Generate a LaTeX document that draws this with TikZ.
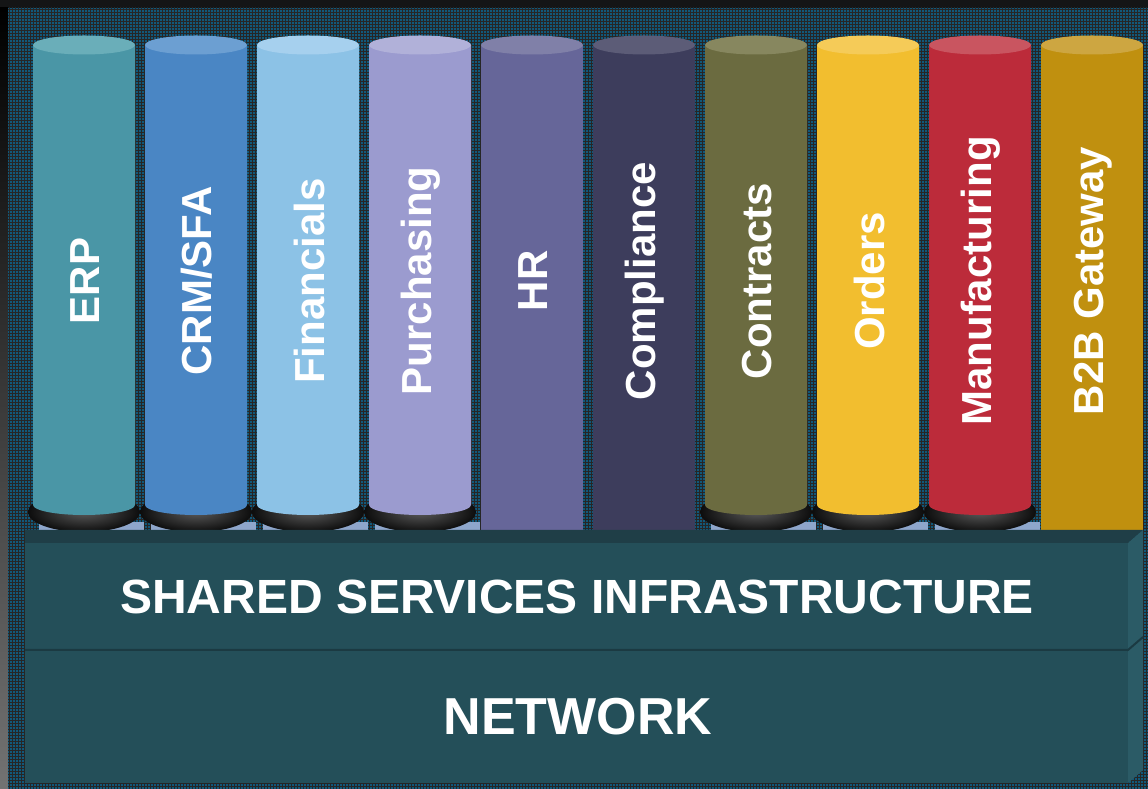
\documentclass[tikz,border=0pt]{standalone}
\usepackage{fontspec}
\setmainfont{Liberation Sans}
\usetikzlibrary{patterns}
\definecolor{outerdark}{HTML}{141516}
\definecolor{bgpanel}{HTML}{11587A}
\definecolor{baselight}{HTML}{8EA6CB}
\definecolor{slabfront}{HTML}{244F59}
\definecolor{slabtop}{HTML}{1F3E47}
\definecolor{slabside}{HTML}{2B5B66}
\definecolor{slabline}{HTML}{1B3A42}
\definecolor{erpbody}{HTML}{4A96A6}
\definecolor{erptop}{HTML}{6AAEB9}
\definecolor{crmbody}{HTML}{4A86C4}
\definecolor{crmtop}{HTML}{6C9FD2}
\definecolor{finbody}{HTML}{8CC2E6}
\definecolor{fintop}{HTML}{A6D0EE}
\definecolor{purchbody}{HTML}{9B9BCF}
\definecolor{purchtop}{HTML}{B1B1D9}
\definecolor{hrbody}{HTML}{666699}
\definecolor{hrtop}{HTML}{8080A8}
\definecolor{complbody}{HTML}{3D3D5C}
\definecolor{compltop}{HTML}{5C5C77}
\definecolor{contrbody}{HTML}{6B6B40}
\definecolor{contrtop}{HTML}{87875F}
\definecolor{ordersbody}{HTML}{F2BE2F}
\definecolor{orderstop}{HTML}{F5CB58}
\definecolor{manufbody}{HTML}{BC2B3A}
\definecolor{manuftop}{HTML}{C95560}
\definecolor{btobbody}{HTML}{C0900F}
\definecolor{btobtop}{HTML}{CDA641}

\begin{document}
\begin{tikzpicture}[x=1pt,y=1pt,node font=\bfseries\fontsize{42}{42}\selectfont,
    pillartext/.style={white,rotate=90}]
  \useasboundingbox (0,0) rectangle (1148,789);
  % backdrop
  \fill[outerdark] (0,0) rectangle (1148,789);
  \shade[top color=black, bottom color=black!55] (0,0) rectangle (8,781);
  \fill[bgpanel] (8,0) rectangle (1148,781);
  \fill[pattern=grid, pattern color=black!85] (8,0) rectangle (1148,781);
  % pillars
  \foreach \i/\col/\txt/\hasbase in {0/erp/ERP/1, 1/crm/{CRM/SFA}/1,
      2/fin/Financials/1, 3/purch/Purchasing/1, 4/hr/HR/0,
      5/compl/Compliance/0, 6/contr/Contracts/1, 7/orders/Orders/1,
      8/manuf/Manufacturing/1, 9/btob/B2B Gateway/0}{
    \pgfmathsetmacro\cx{84+112*\i}
    \ifnum\hasbase=1
      \fill[baselight] (\cx-45,259) rectangle (\cx+60,267);
      \shade[inner color=black!65, outer color=black!95] (\cx,277) ellipse [x radius=56, y radius=20];
      \fill[\col body] (\cx-51,744) -- (\cx-51,284)
        arc[start angle=180, end angle=360, x radius=51, y radius=10] -- (\cx+51,744) -- cycle;
    \else
      \fill[\col body] (\cx-51,259) rectangle (\cx+51,744);
    \fi
    \fill[\col top] (\cx,744) ellipse [x radius=51, y radius=9.5];
    \node[pillartext] (\col) at (\cx+1,508) {\txt};
  }
  % shared services slab
  \fill[slabtop] (25,259) -- (1143,259) -- (1128,246) -- (25,246) -- cycle;
  \fill[slabfront] (25,246) rectangle (1128,139);
  \fill[slabside] (1128,246) -- (1143,259) -- (1143,152) -- (1128,139) -- cycle;
  % network slab
  \fill[slabfront, rounded corners=2] (25,139) rectangle (1128,6);
  \fill[slabside] (1128,139) -- (1143,152) -- (1143,19) -- (1128,6) -- cycle;
  \draw[slabline, line width=2] (25,139) -- (1128,139) -- (1143,152);
  \node[white, font=\fontsize{48}{48}\selectfont] (shared) at (577,192) {SHARED SERVICES INFRASTRUCTURE};
  \node[white, font=\fontsize{52}{52}\selectfont] (network) at (578,72) {NETWORK};
\end{tikzpicture}
\end{document}
